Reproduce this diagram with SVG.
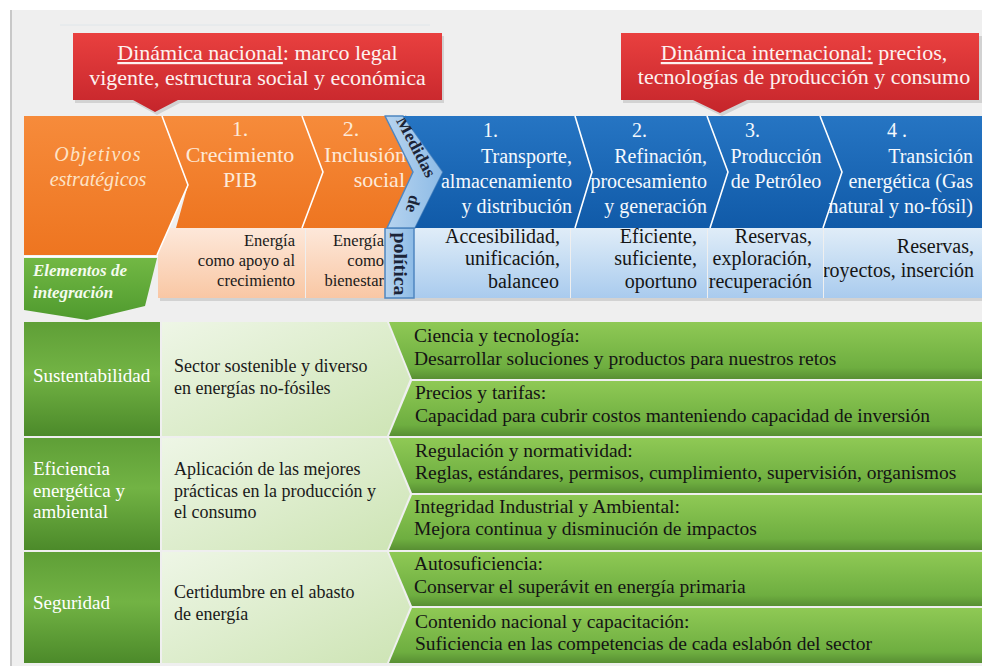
<svg xmlns="http://www.w3.org/2000/svg" width="982" height="666" viewBox="0 0 982 666">
<defs>
  <linearGradient id="gRed" x1="0" y1="0" x2="0" y2="1">
    <stop offset="0" stop-color="#e9403f"/>
    <stop offset="1" stop-color="#c5252b"/>
  </linearGradient>
  <linearGradient id="gOr" x1="0" y1="0" x2="0" y2="1">
    <stop offset="0" stop-color="#f68b3b"/>
    <stop offset="1" stop-color="#ee7520"/>
  </linearGradient>
  <linearGradient id="gPeach" x1="0" y1="0" x2="0" y2="1">
    <stop offset="0" stop-color="#fde8da"/>
    <stop offset="1" stop-color="#f9c7a4"/>
  </linearGradient>
  <linearGradient id="gBlue" x1="0" y1="0" x2="0" y2="1">
    <stop offset="0" stop-color="#2675c3"/>
    <stop offset="1" stop-color="#105aa8"/>
  </linearGradient>
  <linearGradient id="gLBlue" x1="0" y1="0" x2="0" y2="1">
    <stop offset="0" stop-color="#e0edf8"/>
    <stop offset="1" stop-color="#a9cbee"/>
  </linearGradient>
  <linearGradient id="gStrip" x1="0" y1="0" x2="1" y2="0">
    <stop offset="0" stop-color="#b7d4ef"/>
    <stop offset="1" stop-color="#8dbbe6"/>
  </linearGradient>
  <linearGradient id="gGreenEl" x1="0" y1="0" x2="0" y2="1">
    <stop offset="0" stop-color="#72b844"/>
    <stop offset="1" stop-color="#4f9a2e"/>
  </linearGradient>
  <linearGradient id="gDark" x1="0" y1="0" x2="0" y2="1">
    <stop offset="0" stop-color="#5f9f37"/>
    <stop offset="0.45" stop-color="#72b344"/>
    <stop offset="1" stop-color="#4c8a2a"/>
  </linearGradient>
  <linearGradient id="gMid" x1="0" y1="0" x2="1" y2="1">
    <stop offset="0" stop-color="#eef6e6"/>
    <stop offset="1" stop-color="#cde4b4"/>
  </linearGradient>
  <linearGradient id="gBar" x1="0" y1="0" x2="0" y2="1">
    <stop offset="0" stop-color="#8fc955"/>
    <stop offset="0.8" stop-color="#6eae40"/>
    <stop offset="1" stop-color="#588f33"/>
  </linearGradient>
  <clipPath id="clipLB4"><rect x="824" y="228" width="158" height="70"/></clipPath>
</defs>
<style>
  .f{font-family:"Liberation Serif","Times New Roman",serif;}
  .red{font-size:22px;fill:#fdf1ef;}
  .orT{font-size:22px;fill:#fde9d8;}
  .peT{font-size:16.5px;fill:#1a1a1a;}
  .blT{font-size:20px;fill:#f5f9fd;}
  .lbT{font-size:20px;fill:#151515;}
  .lc{font-size:19px;fill:#ffffff;}
  .mc{font-size:18px;fill:#1a1a1a;}
  .bar{font-size:19.5px;fill:#141414;}
  .sep{stroke:#ffffff;stroke-width:1.6;fill:none;}
  .shadow{fill:#000000;opacity:0.12;}
</style>

<rect x="0" y="0" width="982" height="666" fill="#ffffff"/>
<rect x="10" y="10" width="972" height="656" fill="#efefef"/>
<line x1="11" y1="10" x2="11" y2="666" stroke="#c8c8c8" stroke-width="2"/>
<line x1="60" y1="25" x2="430" y2="25" stroke="#dfe6ea" stroke-width="1"/>

<g id="connectors"></g>

<g id="callout-nacional">
  <path class="shadow" d="M75,36 H444 V103 H180 L157,115 L135,103 H75 Z"/>
  <path d="M73,33 H442 V100 H178 L155,112 L133,100 H73 Z" fill="url(#gRed)"/>
  <text class="f red" x="257.5" y="60" text-anchor="middle"><tspan text-decoration="underline">Dinámica nacional</tspan>: marco legal</text>
  <text class="f red" x="257.5" y="85" text-anchor="middle">vigente, estructura social y económica</text>
</g>

<g id="callout-internacional">
  <path class="shadow" d="M623,36 H982 V103 H749 L722,116 L695,103 H623 Z"/>
  <path d="M621,33 H979 V100 H747 L720,113 L693,100 H621 Z" fill="url(#gRed)"/>
  <text class="f red" x="804" y="60" text-anchor="middle"><tspan text-decoration="underline">Dinámica internacional:</tspan> precios,</text>
  <text class="f red" x="804" y="84" text-anchor="middle">tecnologías de producción y consumo</text>
</g>

<!-- lower sub-row -->
<rect class="shadow" x="160" y="298" width="822" height="3"/>
<g id="peach-1">
  <rect x="158" y="228" width="147" height="70" fill="url(#gPeach)"/>
  <text class="f peT" x="295" y="246" text-anchor="end">Energía</text>
  <text class="f peT" x="295" y="266" text-anchor="end">como apoyo al</text>
  <text class="f peT" x="295" y="286" text-anchor="end">crecimiento</text>
</g>
<g id="peach-2">
  <rect x="306" y="228" width="80" height="70" fill="url(#gPeach)"/>
  <text class="f peT" x="384" y="246" text-anchor="end">Energía</text>
  <text class="f peT" x="384" y="266" text-anchor="end">como</text>
  <text class="f peT" x="384" y="286" text-anchor="end">bienestar</text>
</g>
<g id="lb-1">
  <rect x="414" y="228" width="156" height="70" fill="url(#gLBlue)"/>
  <text class="f lbT" x="560" y="243" text-anchor="end">Accesibilidad,</text>
  <text class="f lbT" x="560" y="265" text-anchor="end">unificación,</text>
  <text class="f lbT" x="559" y="288" text-anchor="end">balanceo</text>
</g>
<g id="lb-2">
  <rect x="571" y="228" width="136" height="70" fill="url(#gLBlue)"/>
  <text class="f lbT" x="697" y="243" text-anchor="end">Eficiente,</text>
  <text class="f lbT" x="697" y="265" text-anchor="end">suficiente,</text>
  <text class="f lbT" x="697" y="288" text-anchor="end">oportuno</text>
</g>
<g id="lb-3">
  <rect x="708" y="228" width="115" height="70" fill="url(#gLBlue)"/>
  <text class="f lbT" x="812" y="243" text-anchor="end">Reservas,</text>
  <text class="f lbT" x="812" y="265" text-anchor="end">exploración,</text>
  <text class="f lbT" x="812" y="288" text-anchor="end">recuperación</text>
</g>
<g id="lb-4">
  <rect x="824" y="228" width="158" height="70" fill="url(#gLBlue)"/>
  <g clip-path="url(#clipLB4)">
    <text class="f lbT" x="974" y="253" text-anchor="end">Reservas,</text>
    <text class="f lbT" x="974" y="277" text-anchor="end">proyectos, inserción</text>
  </g>
</g>
<g id="politica">
  <rect x="385" y="228" width="29" height="70" fill="url(#gStrip)" stroke="#4f86c0" stroke-width="1.5"/>
  <text class="f" x="400" y="264" transform="rotate(90 400 264)" text-anchor="middle" dominant-baseline="central" font-size="19" font-weight="bold" fill="#1b2438" textLength="63" lengthAdjust="spacingAndGlyphs">política</text>
</g>

<!-- main chevron row -->
<g id="objetivos">
  <polygon points="24,116 162,116 188,185 157,255 24,255" fill="url(#gOr)"/>
  <text class="f" x="98" y="161" text-anchor="middle" font-size="20" font-style="italic" fill="#fde3c6" letter-spacing="1.2">Objetivos</text>
  <text class="f" x="98" y="186" text-anchor="middle" font-size="20" font-style="italic" fill="#fde3c6">estratégicos</text>
</g>
<g id="elementos">
  <polygon points="24,258 157,258 145,306 87,320 24,310" fill="url(#gGreenEl)"/>
  <text class="f" x="33" y="276" font-size="17" font-style="italic" font-weight="bold" fill="#f4fbee">Elementos de</text>
  <text class="f" x="33" y="298" font-size="17" font-style="italic" font-weight="bold" fill="#f4fbee">integración</text>
</g>
<g id="obj-1">
  <polygon points="162,116 302,116 323,172 302,228 176,228 188,185" fill="url(#gOr)"/>
  <text class="f orT" x="240" y="136" text-anchor="middle">1.</text>
  <text class="f orT" x="240" y="162" text-anchor="middle">Crecimiento</text>
  <text class="f orT" x="240" y="187" text-anchor="middle">PIB</text>
</g>
<g id="obj-2">
  <polygon points="302,116 385,116 413,172 387,228 302,228 323,172" fill="url(#gOr)"/>
  <text class="f orT" x="351" y="136" text-anchor="middle">2.</text>
  <text class="f orT" x="406" y="162" text-anchor="end">Inclusión</text>
  <text class="f orT" x="405" y="187" text-anchor="end">social</text>
</g>
<g id="medidas">
  <polygon points="385,116 403,116 443,172 415,228 387,228 413,172" fill="url(#gStrip)" stroke="#4f86c0" stroke-width="1.5" stroke-linejoin="round"/>
  <text class="f" x="416" y="147" transform="rotate(62 416 147)" text-anchor="middle" dominant-baseline="central" font-size="17" font-weight="bold" fill="#1b2438" textLength="66" lengthAdjust="spacingAndGlyphs">Medidas</text>
  <text class="f" x="413" y="204" transform="rotate(105 413 204)" text-anchor="middle" dominant-baseline="central" font-size="17" font-weight="bold" fill="#1b2438">de</text>
</g>
<g id="med-1">
  <polygon points="403,116 575,116 592,172 575,228 415,228 443,172" fill="url(#gBlue)"/>
  <text class="f blT" x="483" y="137">1.</text>
  <text class="f blT" x="572" y="163" text-anchor="end">Transporte,</text>
  <text class="f blT" x="572" y="188" text-anchor="end">almacenamiento</text>
  <text class="f blT" x="572" y="213" text-anchor="end">y distribución</text>
</g>
<g id="med-2">
  <polygon points="575,116 707,116 728,172 710,228 575,228 592,172" fill="url(#gBlue)"/>
  <text class="f blT" x="632" y="137">2.</text>
  <text class="f blT" x="707" y="163" text-anchor="end">Refinación,</text>
  <text class="f blT" x="707" y="188" text-anchor="end">procesamiento</text>
  <text class="f blT" x="707" y="213" text-anchor="end">y generación</text>
</g>
<g id="med-3">
  <polygon points="707,116 820,116 842,172 823,228 710,228 728,172" fill="url(#gBlue)"/>
  <text class="f blT" x="745" y="137">3.</text>
  <text class="f blT" x="776" y="163" text-anchor="middle">Producción</text>
  <text class="f blT" x="776" y="188" text-anchor="middle">de Petróleo</text>
</g>
<g id="med-4">
  <polygon points="820,116 982,116 982,228 823,228 842,172" fill="url(#gBlue)"/>
  <text class="f blT" x="887" y="137">4 .</text>
  <text class="f blT" x="973" y="163" text-anchor="end">Transición</text>
  <text class="f blT" x="973" y="188" text-anchor="end">energética (Gas</text>
  <text class="f blT" x="973" y="213" text-anchor="end">natural y no-fósil)</text>
</g>
<g id="top-separators">
  <polyline class="sep" points="162,116 188,185 157,255"/>
  <polyline class="sep" points="302,116 323,172 302,228"/>
  <polyline class="sep" points="575,116 592,172 575,228"/>
  <polyline class="sep" points="707,116 728,172 710,228"/>
  <polyline class="sep" points="820,116 842,172 823,228"/>
  <line class="sep" x1="24" y1="256.5" x2="158" y2="256.5"/>
</g>

<!-- bottom table -->
<g id="sustentabilidad">
  <rect x="24" y="322" width="136" height="114" fill="url(#gDark)"/>
  <text class="f lc" x="33" y="382">Sustentabilidad</text>
</g>
<g id="eficiencia">
  <rect x="24" y="438" width="136" height="112" fill="url(#gDark)"/>
  <text class="f lc" x="33" y="475">Eficiencia</text>
  <text class="f lc" x="33" y="497">energética y</text>
  <text class="f lc" x="33" y="518">ambiental</text>
</g>
<g id="seguridad">
  <rect x="24" y="552" width="136" height="111" fill="url(#gDark)"/>
  <text class="f lc" x="33" y="609">Seguridad</text>
</g>

<g id="mid-1">
  <polygon points="162,322 387,322 410,379 387,436 162,436" fill="url(#gMid)"/>
  <text class="f mc" x="174" y="372">Sector sostenible y diverso</text>
  <text class="f mc" x="174" y="394">en energías no-fósiles</text>
</g>
<g id="mid-2">
  <polygon points="162,438 387,438 410,494 387,550 162,550" fill="url(#gMid)"/>
  <text class="f mc" x="174" y="475">Aplicación de las mejores</text>
  <text class="f mc" x="174" y="497">prácticas en la producción y</text>
  <text class="f mc" x="174" y="518">el consumo</text>
</g>
<g id="mid-3">
  <polygon points="162,552 387,552 410,607 387,663 162,663" fill="url(#gMid)"/>
  <text class="f mc" x="174" y="598">Certidumbre en el abasto</text>
  <text class="f mc" x="174" y="620">de energía</text>
</g>

<g id="bar-ciencia">
  <polygon points="389,322 982,322 982,379 412,379" fill="url(#gBar)"/>
  <text class="f bar" x="414" y="342">Ciencia y tecnología:</text>
  <text class="f bar" x="414" y="365">Desarrollar soluciones y productos para nuestros retos</text>
</g>
<g id="bar-precios">
  <polygon points="412,381 982,381 982,436 389,436" fill="url(#gBar)"/>
  <text class="f bar" x="415" y="399">Precios y tarifas:</text>
  <text class="f bar" x="415" y="422">Capacidad para cubrir costos manteniendo capacidad de inversión</text>
</g>
<g id="bar-regulacion">
  <polygon points="389,438 982,438 982,493 412,493" fill="url(#gBar)"/>
  <text class="f bar" x="415" y="457">Regulación y normatividad:</text>
  <text class="f bar" x="415" y="479">Reglas, estándares, permisos, cumplimiento, supervisión, organismos</text>
</g>
<g id="bar-integridad">
  <polygon points="412,495 982,495 982,550 389,550" fill="url(#gBar)"/>
  <text class="f bar" x="414" y="513">Integridad Industrial y Ambiental:</text>
  <text class="f bar" x="414" y="535">Mejora continua y disminución de impactos</text>
</g>
<g id="bar-autosuficiencia">
  <polygon points="389,552 982,552 982,606 412,606" fill="url(#gBar)"/>
  <text class="f bar" x="414" y="570">Autosuficiencia:</text>
  <text class="f bar" x="414" y="593">Conservar el superávit en energía primaria</text>
</g>
<g id="bar-contenido">
  <polygon points="412,608 982,608 982,663 389,663" fill="url(#gBar)"/>
  <text class="f bar" x="415" y="628">Contenido nacional y capacitación:</text>
  <text class="f bar" x="415" y="650">Suficiencia en las competencias de cada eslabón del sector</text>
</g>
</svg>
